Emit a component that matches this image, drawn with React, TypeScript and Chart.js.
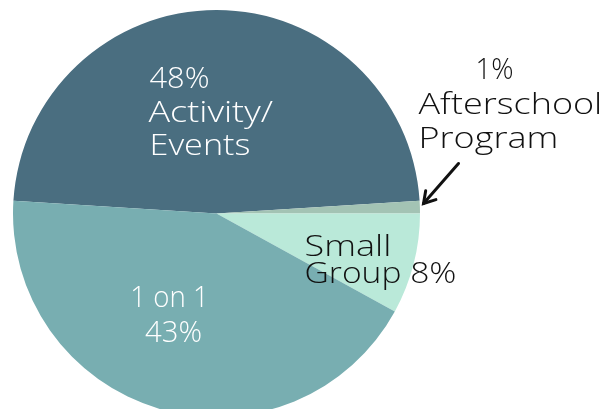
import React, { useEffect, useRef } from "react";
import { Chart, registerables } from "chart.js";

Chart.register(...registerables);

const categories = ["Activity/Events", "Afterschool Program", "Small Group", "1 on 1"];
const shares = [48, 1, 8, 43];
const colors = ["#4A6E80", "#A3C3B4", "#BAE9D9", "#78AEB1"];

// label lines: text, x, baseline y (relative to pie centre), align, colour, target width
type Line = { t: string; dx: number; dy: number; align: CanvasTextAlign; c: string; w: number };
const labelLines: Line[] = [
  { t: "48%", dx: -67, dy: -126, align: "left", c: "#ffffff", w: 60 },
  { t: "Activity/", dx: -68, dy: -92, align: "left", c: "#ffffff", w: 127 },
  { t: "Events", dx: -67, dy: -59, align: "left", c: "#ffffff", w: 101 },
  { t: "1 on 1", dx: -47, dy: 93, align: "center", c: "#ffffff", w: 78 },
  { t: "43%", dx: -43, dy: 128, align: "center", c: "#ffffff", w: 57 },
  { t: "Small", dx: 88, dy: 42, align: "left", c: "#111111", w: 87 },
  { t: "Group 8%", dx: 88, dy: 69, align: "left", c: "#111111", w: 152 },
  { t: "1%", dx: 278, dy: -135, align: "center", c: "#111111", w: 30 },
  { t: "Afterschool", dx: 202, dy: -100, align: "left", c: "#111111", w: 185 },
  { t: "Program", dx: 202, dy: -66, align: "left", c: "#111111", w: 140 },
];

const labelPlugin = {
  id: "sliceLabels",
  afterDraw(chart: any) {
    const arc = chart.getDatasetMeta(0).data[0];
    if (!arc) return;
    const cx = arc.x;
    const cy = arc.y;
    const ctx = chart.ctx as CanvasRenderingContext2D;
    ctx.save();
    ctx.font = "300 30px 'Open Sans', sans-serif";
    ctx.textBaseline = "alphabetic";
    for (const l of labelLines) {
      const m = ctx.measureText(l.t).width;
      const s = Math.max(0.92, Math.min(1.2, l.w / m));
      const x = cx + l.dx;
      const y = cy + l.dy;
      ctx.save();
      ctx.translate(x, y);
      ctx.scale(s, 1);
      ctx.fillStyle = l.c;
      ctx.textAlign = l.align;
      ctx.fillText(l.t, 0, 0);
      ctx.restore();
    }
    // arrow to the small slice
    const x1 = cx + 242, y1 = cy - 50;
    const x2 = cx + 207, y2 = cy - 10;
    ctx.strokeStyle = "#111111";
    ctx.lineWidth = 3;
    ctx.lineCap = "round";
    ctx.beginPath();
    ctx.moveTo(x1, y1);
    ctx.lineTo(x2, y2);
    ctx.stroke();
    const ang = Math.atan2(y2 - y1, x2 - x1);
    const hl = 13;
    ctx.beginPath();
    ctx.moveTo(x2 + hl * Math.cos(ang + Math.PI - 0.55), y2 + hl * Math.sin(ang + Math.PI - 0.55));
    ctx.lineTo(x2, y2);
    ctx.lineTo(x2 + hl * Math.cos(ang + Math.PI + 0.55), y2 + hl * Math.sin(ang + Math.PI + 0.55));
    ctx.stroke();
    ctx.restore();
  },
};

export default function App() {
  const ref = useRef<HTMLCanvasElement>(null);
  useEffect(() => {
    if (!ref.current) return;
    const chart = new Chart(ref.current, {
      type: "pie",
      data: {
        labels: categories,
        datasets: [
          {
            data: shares,
            backgroundColor: colors,
            borderWidth: 0,
          },
        ],
      },
      options: {
        responsive: false,
        animation: false,
        rotation: -86.4,
        layout: { padding: { left: 13, top: 10, right: 196, bottom: 10 } },
        plugins: { legend: { display: false }, tooltip: { enabled: false } },
      },
      plugins: [labelPlugin],
    });
    return () => chart.destroy();
  }, []);
  return (
    <div style={{ position: "fixed", left: 0, top: 0, width: 616, height: 409, overflow: "hidden", background: "#fff" }}>
      <canvas ref={ref} width={616} height={427} style={{ display: "block", width: 616, height: 427 }} />
    </div>
  );
}
